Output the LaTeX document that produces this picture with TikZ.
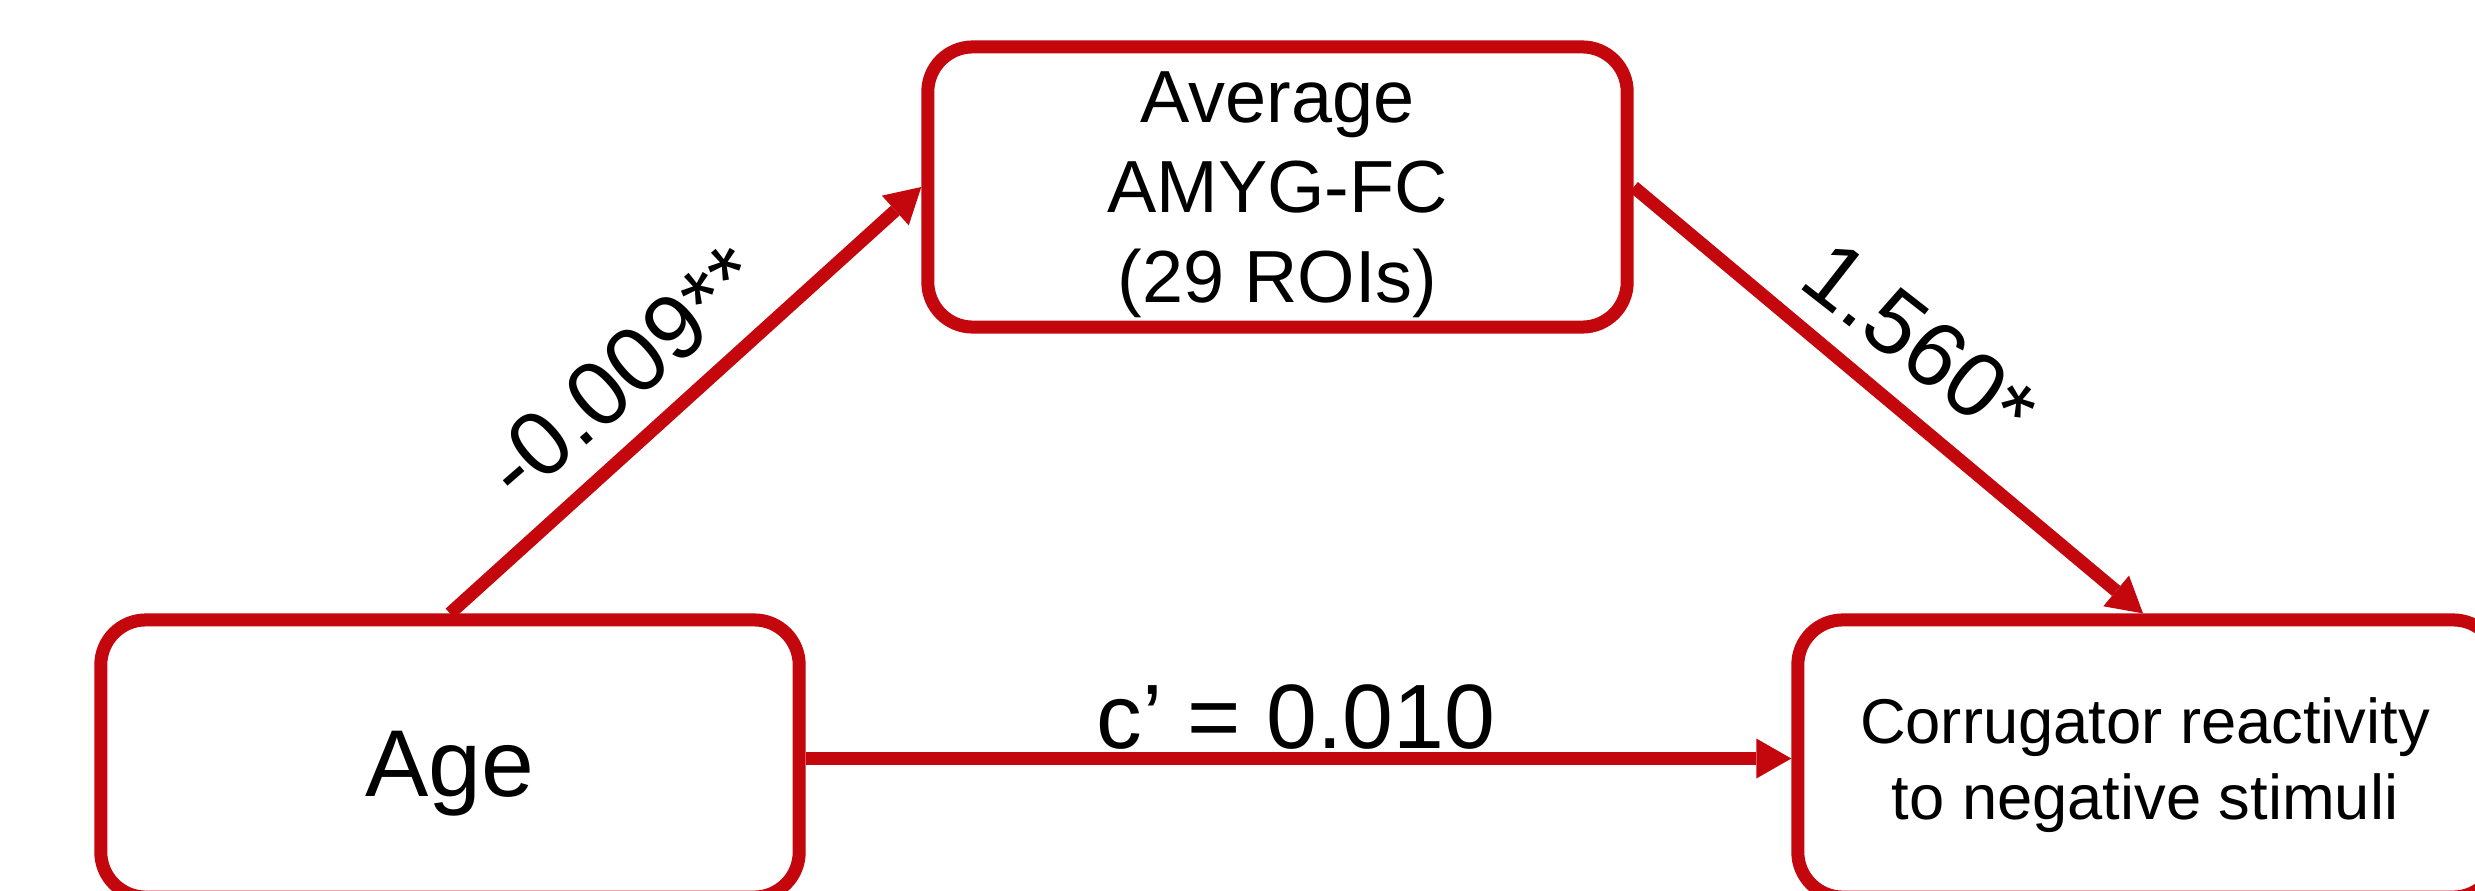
\documentclass[tikz,border=0pt]{standalone}
\usepackage{fontspec}
\setmainfont{Liberation Sans}
\usetikzlibrary{arrows.meta}
\definecolor{boxred}{RGB}{196,6,13}
\begin{document}
\begin{tikzpicture}[x=0.01cm,y=-0.01cm,
  box/.style={draw=boxred, line width=0.13cm, rounded corners=0.45cm, rectangle, inner sep=0pt},
  conn/.style={draw=boxred, line width=0.13cm, -{Triangle[length=0.35cm,width=0.4cm,line width=0pt]}},
  lbl/.style={font=\fontsize{26}{31}\selectfont, inner sep=0pt},
  txt/.style={inner sep=0pt, text=black}
]
\useasboundingbox (0,0) rectangle (2475,891);
\fill[white] (0,0) rectangle (2475,891);
% boxes
\node[box, minimum width=6.99cm, minimum height=2.80cm] (top) at (1277.5,187) {};
\node[box, minimum width=6.98cm, minimum height=2.77cm] (age) at (450,758.5) {};
\node[box, minimum width=7.00cm, minimum height=2.77cm] (corr) at (2148,758.5) {};
% texts
\node[txt, font=\fontsize{21}{25.6}\selectfont, align=center] (ttop) at (1277.5,195) {Average\\AMYG-FC\\(29 ROIs)};
\node[txt, font=\fontsize{27}{32}\selectfont, anchor=base] (tage) at (450,796) {Age};
\node[txt, font=\fontsize{18}{21.6}\selectfont, align=center] (tcorr) at (2145,765) {Corrugator reactivity\\to negative stimuli};
% connectors
\draw[conn] (age.north) -- (top.west);
\draw[conn] (top.east) -- ([xshift=-0.05cm]corr.north);
\draw[conn] (age.east) -- (corr.west);
% labels
\node[lbl, rotate=41] (l1) at (623,372) {-0.009**};
\node[lbl, rotate=-38] (l2) at (1920,342) {1.560*};
\node[lbl, anchor=base] (l3) at (1296,748) {c’ = 0.010};
\end{tikzpicture}
\end{document}
